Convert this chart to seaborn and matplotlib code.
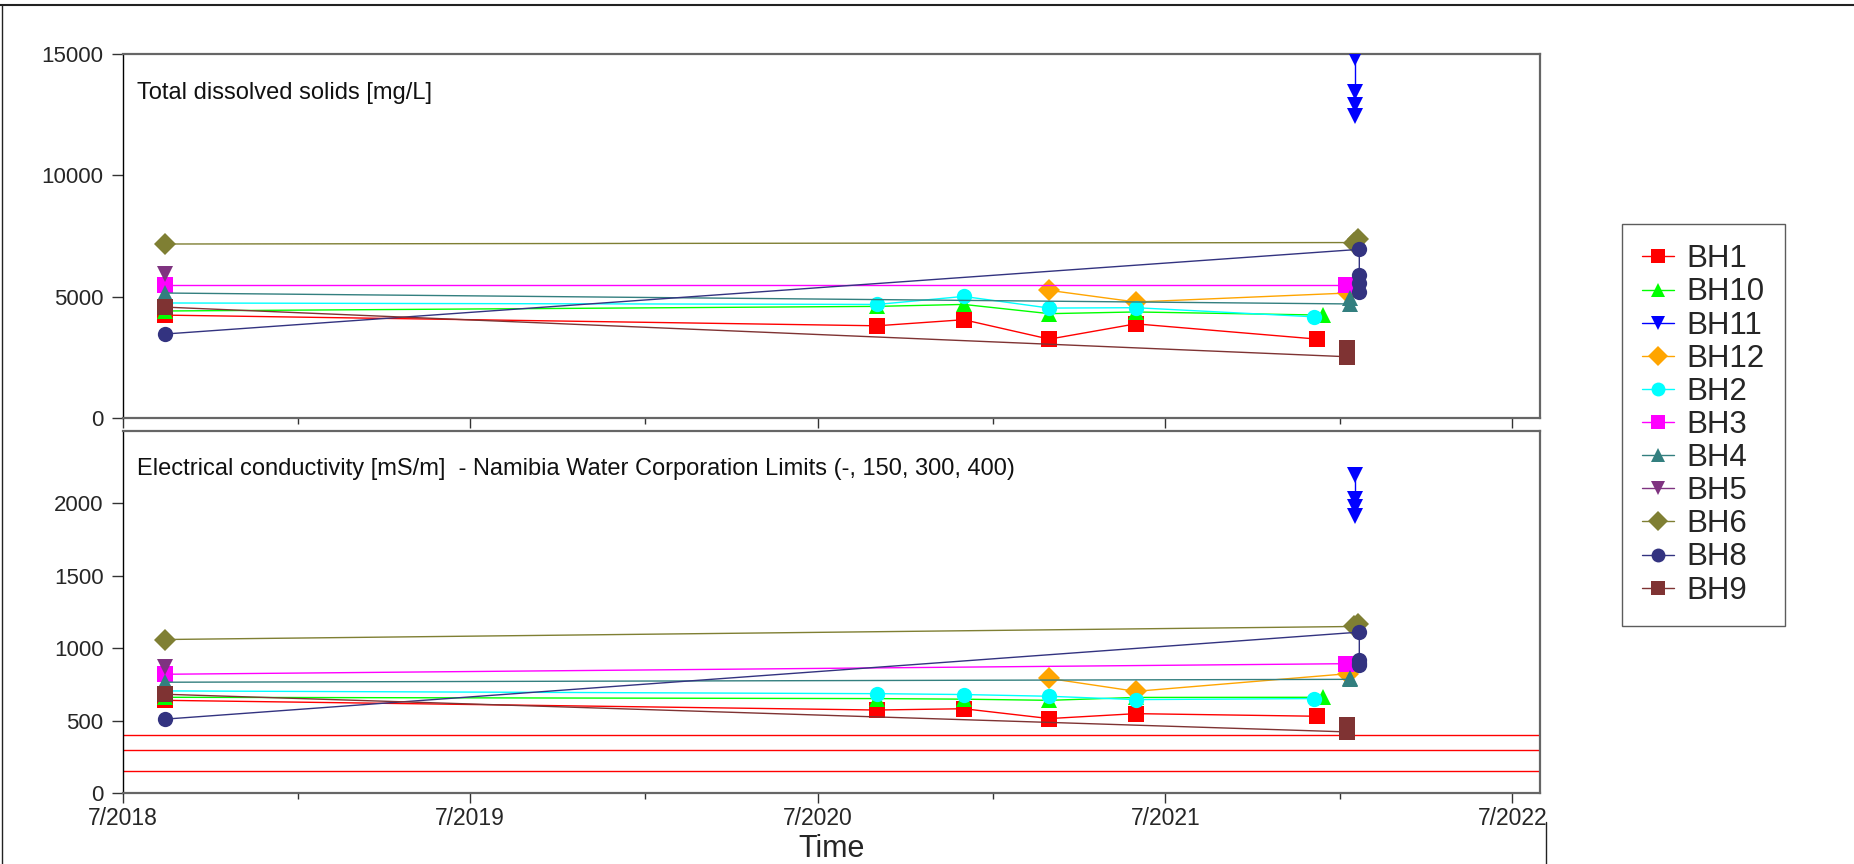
import matplotlib
matplotlib.use("Agg")
import matplotlib.pyplot as plt
import matplotlib.dates as mdates
from matplotlib.lines import Line2D
from matplotlib.ticker import FuncFormatter
import seaborn as sns
import pandas as pd

# ---------------- data ----------------
WELLS = ["BH1", "BH10", "BH11", "BH12", "BH2", "BH3", "BH4", "BH5", "BH6", "BH8", "BH9"]
COLORS = ["#FF0000", "#00FF00", "#0000FF", "#FFA500", "#00FFFF", "#FF00FF",
          "#337F7F", "#7F3380", "#7F7F33", "#333380", "#7F3333"]
MARKERS = ["s", "^", "v", "D", "o", "s", "^", "v", "D", "o", "s"]

BH1_DATES = ["2018-08-14", "2020-09-01", "2020-12-01", "2021-03-01", "2021-05-31", "2021-12-08"]
BH1_TDS = [4240, 3800, 4050, 3250, 3880, 3250]
BH1_EC = [640, 573, 582, 514, 548, 530]

BH10_DATES = ["2018-08-14", "2020-09-01", "2020-12-01", "2021-03-01", "2021-05-31", "2021-12-14"]
BH10_TDS = [4410, 4600, 4680, 4300, 4370, 4240]
BH10_EC = [661, 652, 648, 640, 660, 661]

BH11_DATES = ["2022-01-16", "2022-01-16", "2022-01-16", "2022-01-16"]
BH11_TDS = [14820, 13440, 12890, 12440]
BH11_EC = [2197, 2030, 1972, 1915]

BH12_DATES = ["2021-03-01", "2021-05-31", "2022-01-09"]
BH12_TDS = [5260, 4780, 5150]
BH12_EC = [791, 702, 824]

BH2_DATES = ["2018-08-14", "2020-09-01", "2020-12-01", "2021-03-01", "2021-05-31", "2021-12-04"]
BH2_TDS = [4740, 4680, 5010, 4530, 4545, 4170]
BH2_EC = [705, 686, 680, 668, 645, 652]

BH3_DATES = ["2018-08-14", "2022-01-07"]
BH3_TDS = [5480, 5480]
BH3_EC = [820, 893]

BH4_DATES = ["2018-08-14", "2022-01-11", "2022-01-11"]
BH4_TDS = [5150, 4700, 4950]
BH4_EC = [765, 785, 795]

BH5_DATES = ["2018-08-14"]
BH5_TDS = [5930]
BH5_EC = [870]

BH6_DATES = ["2018-08-14", "2022-01-15", "2022-01-20"]
BH6_TDS = [7170, 7230, 7380]
BH6_EC = [1060, 1150, 1165]

BH8_DATES = ["2018-08-14", "2022-01-21", "2022-01-21", "2022-01-21", "2022-01-21"]
BH8_TDS = [3460, 6950, 5890, 5550, 5200]
BH8_EC = [510, 1111, 920, 900, 882]

BH9_DATES = ["2018-08-14", "2022-01-08", "2022-01-08"]
BH9_TDS = [4570, 2525, 2870]
BH9_EC = [682, 422, 468]

EC_LIMITS = [150, 300, 400]

TDS_TITLE = "Total dissolved solids [mg/L]"
EC_TITLE = "Electrical conductivity [mS/m]  - Namibia Water Corporation Limits (-, 150, 300, 400)"

SERIES = {
    "BH1": (BH1_DATES, BH1_TDS, BH1_EC), "BH10": (BH10_DATES, BH10_TDS, BH10_EC),
    "BH11": (BH11_DATES, BH11_TDS, BH11_EC), "BH12": (BH12_DATES, BH12_TDS, BH12_EC),
    "BH2": (BH2_DATES, BH2_TDS, BH2_EC), "BH3": (BH3_DATES, BH3_TDS, BH3_EC),
    "BH4": (BH4_DATES, BH4_TDS, BH4_EC), "BH5": (BH5_DATES, BH5_TDS, BH5_EC),
    "BH6": (BH6_DATES, BH6_TDS, BH6_EC), "BH8": (BH8_DATES, BH8_TDS, BH8_EC),
    "BH9": (BH9_DATES, BH9_TDS, BH9_EC),
}

rows = []
for w in WELLS:
    d, t, e = SERIES[w]
    for i in range(len(d)):
        rows.append({"well": w, "date": pd.Timestamp(d[i]), "tds": t[i], "ec": e[i]})
df = pd.DataFrame(rows)

palette = dict(zip(WELLS, COLORS))
marker_map = dict(zip(WELLS, MARKERS))

# ---------------- style ----------------
sns.set_style("white")
plt.rcParams["font.family"] = ["Liberation Sans", "DejaVu Sans"]

fig = plt.figure(figsize=(18.54, 8.64), dpi=100)
W, H = 1854, 864
ax1 = fig.add_axes([123 / W, 1 - 418 / H, (1540 - 123) / W, 364 / H])
ax2 = fig.add_axes([123 / W, 1 - 793 / H, (1540 - 123) / W, 362 / H])

for ax, col in ((ax1, "tds"), (ax2, "ec")):
    sns.lineplot(data=df, x="date", y=col, hue="well", style="well",
                 hue_order=WELLS, style_order=WELLS, palette=palette,
                 markers=marker_map, dashes=False, estimator=None, sort=False,
                 linewidth=1.0, markersize=11, markeredgewidth=0,
                 legend=False, ax=ax, zorder=3)

for lim in EC_LIMITS:
    ax2.axhline(lim, color="#FF0000", lw=1.0, zorder=2)

xmin, xmax = pd.Timestamp("2018-07-01"), pd.Timestamp("2022-07-30")
for ax in (ax1, ax2):
    ax.set_xlim(xmin, xmax)
    ax.xaxis.set_major_locator(mdates.MonthLocator(bymonth=7))
    ax.xaxis.set_minor_locator(mdates.MonthLocator(bymonth=1))
    ax.xaxis.set_major_formatter(FuncFormatter(
        lambda v, p: f"{mdates.num2date(v).month}/{mdates.num2date(v).year}"))
    ax.tick_params(axis="x", which="major", direction="out", length=7, width=1,
                   color="#333333", labelsize=16.5, pad=3, bottom=True)
    ax.tick_params(axis="x", which="minor", direction="out", length=4, width=1,
                   color="#333333", bottom=True)
    ax.tick_params(axis="y", which="major", direction="out", length=8, width=1,
                   color="#333333", labelsize=16, pad=6, left=True)
    ax.set_ylabel("")
    ax.set_xlabel("")
    for s in ("top", "right", "bottom"):
        ax.spines[s].set_color("#666666")
        ax.spines[s].set_linewidth(1.6)
    ax.spines["left"].set_color("#000000")
    ax.spines["left"].set_linewidth(1.0)

ax1.set_ylim(0, 15000)
ax1.set_yticks([0, 5000, 10000, 15000])
ax1.tick_params(axis="x", labelbottom=False)
ax2.set_ylim(0, 2500)
ax2.set_yticks([0, 500, 1000, 1500, 2000])
ax2.set_xlabel("Time", fontsize=22, labelpad=3)

ax1.text(0.010, 0.876, TDS_TITLE, transform=ax1.transAxes, fontsize=17,
         va="baseline", ha="left", color="#111111")
ax2.text(0.010, 0.878, EC_TITLE, transform=ax2.transAxes, fontsize=17,
         va="baseline", ha="left", color="#111111")

handles = [Line2D([], [], color=palette[w], marker=marker_map[w], markersize=10,
                  lw=1.0, mew=0) for w in WELLS]
leg = fig.legend(handles, WELLS, loc="upper left",
                 bbox_to_anchor=(1622 / W, 1 - 224 / H), borderaxespad=0,
                 fontsize=22.5, frameon=True, fancybox=False, handlelength=1.0,
                 handletextpad=0.4, labelspacing=0.1, borderpad=0.65)
leg.get_frame().set_edgecolor("#333333")
leg.get_frame().set_linewidth(1.0)

# outer page frame lines
fig.add_artist(Line2D([0, 1], [1 - 5 / H, 1 - 5 / H], transform=fig.transFigure,
                      color="#222222", lw=1.5))
fig.add_artist(Line2D([2 / W, 2 / W], [0, 1 - 5 / H], transform=fig.transFigure,
                      color="#222222", lw=1.0))
fig.add_artist(Line2D([1546 / W, 1546 / W], [0, 1 - 822 / H], transform=fig.transFigure,
                      color="#222222", lw=1.0))

fig.savefig("out.png", dpi=100)
